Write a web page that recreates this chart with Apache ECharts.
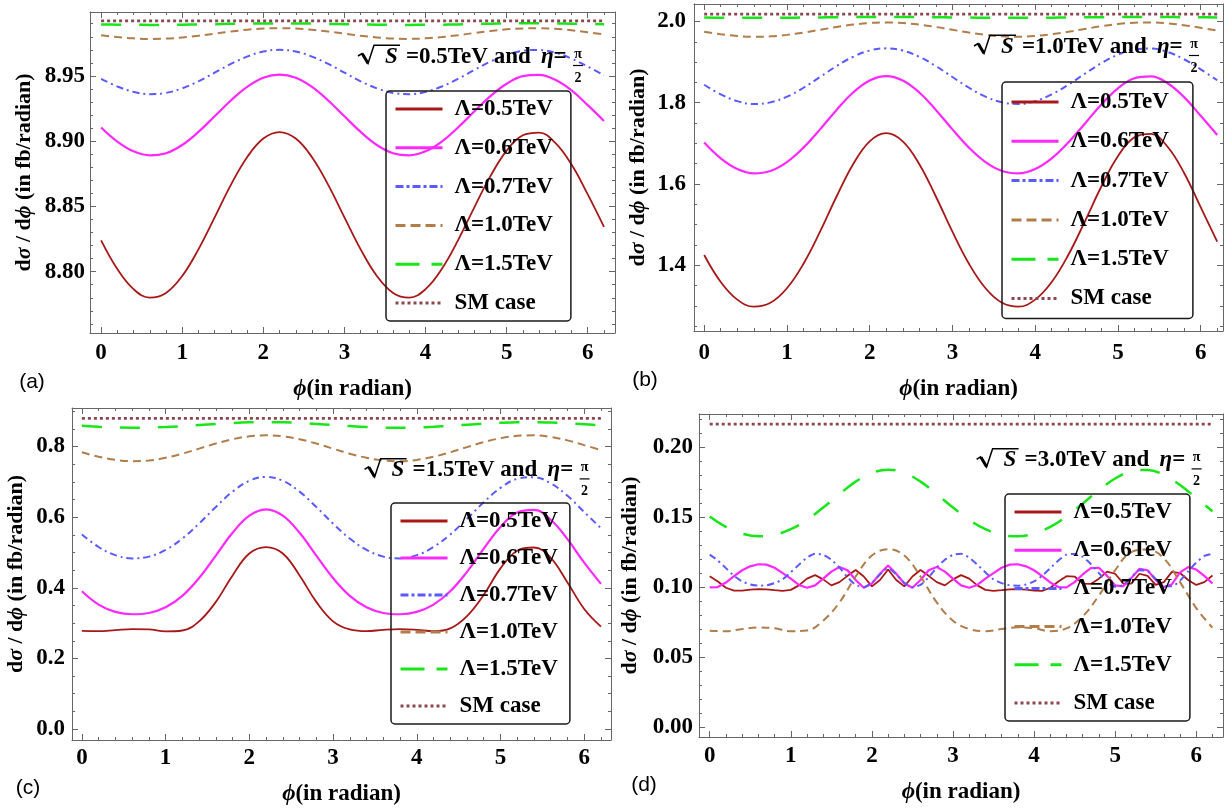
<!DOCTYPE html>
<html><head><meta charset="utf-8">
<script src="https://cdn.jsdelivr.net/npm/echarts@6.0.0/dist/echarts.min.js"></script>
<style>html,body{margin:0;padding:0;background:#fff}#c{width:1232px;height:811px}</style>
</head><body><div id="c"></div>
<script>
// ---------- data ----------
const phi02 = [0,0.2,0.4,0.6,0.8,1.0,1.2,1.4,1.6,1.8,2.0,2.2,2.4,2.6,2.8,3.0,3.2,3.4,3.6,3.8,4.0,4.2,4.4,4.6,4.8,5.0,5.2,5.4,5.6,5.8,6.0,6.2];
const phi01 = [0,0.1,0.2,0.3,0.4,0.5,0.6,0.7,0.8,0.9,1.0,1.1,1.2,1.3,1.4,1.5,1.6,1.7,1.8,1.9,2.0,2.1,2.2,2.3,2.4,2.5,2.6,2.7,2.8,2.9,3.0,3.1,3.2,3.3,3.4,3.5,3.6,3.7,3.8,3.9,4.0,4.1,4.2,4.3,4.4,4.5,4.6,4.7,4.8,4.9,5.0,5.1,5.2,5.3,5.4,5.5,5.6,5.7,5.8,5.9,6.0,6.1,6.2];
const phiEnds = [0, 6.2];

const seriesNames = ['Λ=0.5TeV','Λ=0.6TeV','Λ=0.7TeV','Λ=1.0TeV','Λ=1.5TeV','SM case'];

// panel (a)  sqrt(S)=0.5 TeV
const aL05 = [8.824,8.802,8.7866,8.7801,8.7837,8.7967,8.8171,8.8416,8.8665,8.8877,8.902,8.907,8.902,8.8877,8.8665,8.8416,8.8171,8.7967,8.7837,8.7801,8.7866,8.802,8.824,8.8491,8.8732,8.8928,8.9045,8.9066,8.8987,8.8821,8.8592,8.8343];
const aL06 = [8.9105,8.8997,8.8922,8.8891,8.8908,8.8971,8.9071,8.9191,8.9312,8.9416,8.9486,8.951,8.9486,8.9416,8.9312,8.9191,8.9071,8.8971,8.8908,8.8891,8.8922,8.8997,8.9105,8.9227,8.9345,8.944,8.9498,8.9508,8.947,8.9389,8.9276,8.9155];
const aL07 = [8.9478,8.9419,8.9378,8.936,8.937,8.9405,8.9459,8.9525,8.9592,8.9648,8.9687,8.970,8.9687,8.9648,8.9592,8.9525,8.9459,8.9405,8.937,8.936,8.9378,8.9419,8.9478,8.9545,8.961,8.9662,8.9693,8.9699,8.9678,8.9633,8.9572,8.9505];
const aL10 = [8.9812,8.9798,8.9788,8.9784,8.9786,8.9795,8.9808,8.9824,8.984,8.9854,8.9863,8.9866,8.9863,8.9854,8.984,8.9824,8.9808,8.9795,8.9786,8.9784,8.9788,8.9798,8.9812,8.9829,8.9844,8.9857,8.9864,8.9866,8.9861,8.985,8.9835,8.9819];
const aL15 = [8.9895,8.9893,8.9892,8.9891,8.9891,8.9893,8.9895,8.9897,8.9899,8.9901,8.9902,8.9903,8.9902,8.9901,8.9899,8.9897,8.9895,8.9893,8.9891,8.9891,8.9892,8.9893,8.9895,8.9898,8.99,8.9902,8.9903,8.9903,8.9902,8.99,8.9898,8.9896];
const aSM  = [8.9922, 8.9922];

// panel (b)  sqrt(S)=1.0 TeV
const bL05 = [1.425,1.3586,1.3152,1.2978,1.3074,1.3433,1.4036,1.4824,1.5691,1.6485,1.7048,1.7251,1.7048,1.6485,1.5691,1.4824,1.4036,1.3433,1.3074,1.2978,1.3152,1.3586,1.425,1.5075,1.5937,1.6681,1.7147,1.7233,1.6916,1.627,1.5427,1.458];
const bL06 = [1.7018,1.6629,1.6368,1.6262,1.632,1.6539,1.6894,1.7343,1.7823,1.8252,1.8549,1.8656,1.8549,1.8252,1.7823,1.7343,1.6894,1.6539,1.632,1.6262,1.6368,1.6629,1.7018,1.7484,1.7957,1.8355,1.8602,1.8647,1.848,1.8137,1.7678,1.7206];
const bL07 = [1.8442,1.8205,1.8039,1.7969,1.8008,1.8148,1.8368,1.8633,1.8901,1.913,1.9284,1.9338,1.9284,1.913,1.8901,1.8633,1.8368,1.8148,1.8008,1.7969,1.8039,1.8205,1.8442,1.8713,1.8974,1.9184,1.9311,1.9333,1.9249,1.907,1.8822,1.8553];
const bL10 = [1.9746,1.9685,1.9642,1.9624,1.9634,1.967,1.9727,1.9795,1.9864,1.9923,1.9962,1.9976,1.9962,1.9923,1.9864,1.9795,1.9727,1.967,1.9634,1.9624,1.9642,1.9685,1.9746,1.9815,1.9882,1.9937,1.9969,1.9975,1.9953,1.9907,1.9843,1.9774];
const bL15 = [2.0097,2.0093,2.0091,2.009,2.0091,2.0093,2.0096,2.01,2.0104,2.0107,2.0109,2.011,2.0109,2.0107,2.0104,2.01,2.0096,2.0093,2.0091,2.009,2.0091,2.0093,2.0097,2.0101,2.0105,2.0108,2.011,2.011,2.0109,2.0106,2.0102,2.0099];
const bSM  = [2.018, 2.018];

// panel (c)  sqrt(S)=1.5 TeV
const cL05 = [0.278,0.277,0.280,0.283,0.282,0.2765,0.279,0.305,0.36,0.435,0.497,0.515,0.497,0.435,0.36,0.305,0.282,0.277,0.281,0.283,0.281,0.277,0.285,0.32,0.38,0.455,0.505,0.514,0.485,0.415,0.34,0.29];
const cL06 = [0.39,0.3524,0.3319,0.325,0.3287,0.3448,0.3771,0.4275,0.4912,0.5556,0.6042,0.6222,0.6042,0.5556,0.4912,0.4275,0.3771,0.3448,0.3287,0.325,0.3319,0.3524,0.39,0.4451,0.5107,0.5722,0.613,0.6206,0.5926,0.5377,0.471,0.4111];
const cL07 = [0.551,0.5154,0.4923,0.4832,0.4882,0.5072,0.5394,0.5818,0.6288,0.6722,0.7029,0.714,0.7029,0.6722,0.6288,0.5818,0.5394,0.5072,0.4882,0.4832,0.4923,0.5154,0.551,0.5954,0.6422,0.6828,0.7084,0.713,0.6957,0.6604,0.6145,0.5687];
const cL10 = [0.7837,0.771,0.7621,0.7584,0.7604,0.7679,0.7797,0.7939,0.8083,0.8206,0.8288,0.8317,0.8288,0.8206,0.8083,0.7939,0.7797,0.7679,0.7604,0.7584,0.7621,0.771,0.7837,0.7982,0.8122,0.8235,0.8302,0.8315,0.8269,0.8173,0.804,0.7897];
const cL15 = [0.8585,0.8558,0.8538,0.853,0.8535,0.8551,0.8577,0.8608,0.8639,0.8666,0.8684,0.869,0.8684,0.8666,0.8639,0.8608,0.8577,0.8551,0.8535,0.853,0.8538,0.8558,0.8585,0.8617,0.8647,0.8672,0.8687,0.8689,0.868,0.8659,0.863,0.8598];
const cSM  = [0.8796, 0.8796];

// panel (d)  sqrt(S)=3.0 TeV
const dL05 = [0.1078,0.104,0.0995,0.0975,0.0975,0.0982,0.0985,0.0984,0.0978,0.0973,0.098,0.1012,0.106,0.1085,0.1055,0.1012,0.1035,0.108,0.1122,0.1075,0.1005,0.105,0.1125,0.105,0.1005,0.1075,0.1122,0.108,0.1035,0.1012,0.1055,0.1085,0.106,0.1012,0.098,0.0973,0.0978,0.0984,0.0985,0.0982,0.0975,0.0972,0.0995,0.104,0.1078,0.1075,0.1025,0.1022,0.106,0.111,0.1095,0.1025,0.1025,0.1095,0.108,0.1015,0.1035,0.1108,0.110,0.105,0.1015,0.1035,0.1082];
const dL06 = [0.0997,0.1,0.1032,0.1078,0.112,0.1148,0.1163,0.116,0.1138,0.110,0.106,0.1015,0.0995,0.1012,0.106,0.111,0.1143,0.112,0.105,0.0995,0.1025,0.1095,0.1154,0.1095,0.1025,0.0995,0.105,0.112,0.1143,0.111,0.106,0.1012,0.0995,0.1015,0.106,0.110,0.1138,0.116,0.1163,0.1148,0.112,0.1078,0.1033,0.1,0.0998,0.1035,0.109,0.1135,0.1138,0.108,0.1012,0.1005,0.1065,0.113,0.112,0.105,0.0998,0.102,0.1105,0.1142,0.1125,0.108,0.1025];
const dL07 = [0.1232,0.119,0.1135,0.108,0.104,0.1018,0.101,0.1012,0.1028,0.1055,0.1105,0.116,0.121,0.1238,0.123,0.1195,0.114,0.107,0.1015,0.1,0.103,0.109,0.1136,0.109,0.103,0.1,0.1015,0.107,0.114,0.1195,0.123,0.1238,0.121,0.116,0.1105,0.1055,0.1028,0.1012,0.101,0.1018,0.104,0.108,0.1135,0.119,0.1232,0.1236,0.1215,0.1165,0.11,0.1035,0.1002,0.1015,0.107,0.112,0.1115,0.1058,0.1005,0.1005,0.1045,0.1112,0.1175,0.1222,0.1238];
const dL10 = [0.0688,0.0685,0.070,0.0712,0.0705,0.0685,0.069,0.076,0.089,0.1075,0.1225,0.127,0.1225,0.1075,0.089,0.076,0.070,0.0685,0.070,0.0712,0.0705,0.0685,0.0705,0.079,0.094,0.112,0.125,0.1268,0.1205,0.1035,0.085,0.071];
const dL15 = [0.1504,0.143,0.1382,0.1362,0.1373,0.1413,0.148,0.1568,0.1664,0.1753,0.1815,0.1838,0.1815,0.1753,0.1664,0.1568,0.148,0.1413,0.1373,0.1362,0.1382,0.143,0.1504,0.1596,0.1692,0.1775,0.1827,0.1836,0.1801,0.1729,0.1636,0.1541];
const dSM  = [0.2164, 0.2164];

// tick labels
const xTicks  = [0,1,2,3,4,5,6];
const yTicksA = [8.80,8.85,8.90,8.95];
const yTicksB = [1.4,1.6,1.8,2.0];
const yTicksC = [0.0,0.2,0.4,0.6,0.8];
const yTicksD = [0.00,0.05,0.10,0.15,0.20];
const energies = ['0.5','1.0','1.5','3.0'];
const letters = ['(a)','(b)','(c)','(d)'];

// ---------- styles / layout ----------
const FONT = '"Liberation Serif","Times New Roman",serif';
const FRAME = '#666';
const lineStyles = [
  {color:'#a81818', width:1.8, type:'solid'},
  {color:'#ff28ff', width:2.2, type:'solid'},
  {color:'#5a5aff', width:2.0, type:[7,4,2,4]},
  {color:'#b07d4b', width:2.0, type:[8,5]},
  {color:'#19e619', width:2.5, type:[20,18]},
  {color:'#8c4650', width:2.8, type:[3,3]}
];
const legendDash = ['solid','solid',[8,3,3,3],[10,5],[24,12],[3,3]];

const panels = [
  {grid:[90,12,525,321], x:[-0.137,6.336], y:[8.753,8.999], yTicks:yTicksA, yMinor:0.01, dec:2,
   xLabelMargin:9, yLabelMargin:5, xNameGap:45, yNameGap:55,
   lines:[[phi02,aL05],[phi02,aL06],[phi02,aL07],[phi02,aL10],[phi02,aL15],[phiEnds,aSM]], smooth:[0.4,0.4,0.4,0.4,0.4,0],
   legend:{left:386, top:91, gap:14.8, pad:[6,18,6,8]}, title:[0,0], letter:[32,382]},
  {grid:[694,4,529,327], x:[-0.123,6.27], y:[1.238,2.043], yTicks:yTicksB, yMinor:0.05, dec:1,
   xLabelMargin:11, yLabelMargin:8, xNameGap:47, yNameGap:45,
   lines:[[phi02,bL05],[phi02,bL06],[phi02,bL07],[phi02,bL10],[phi02,bL15],[phiEnds,bSM]], smooth:[0.4,0.4,0.4,0.4,0.4,0],
   legend:{left:1002, top:82, gap:15.3, pad:[8,24,8,8]}, title:[616,-10], letter:[645,380]},
  {grid:[72,408,539,332], x:[-0.118,6.32], y:[-0.031,0.909], yTicks:yTicksC, yMinor:0.05, dec:1,
   xLabelMargin:7, yLabelMargin:7, xNameGap:43, yNameGap:45,
   lines:[[phi02,cL05],[phi02,cL06],[phi02,cL07],[phi02,cL10],[phi02,cL15],[phiEnds,cSM]], smooth:[0.4,0.4,0.4,0.4,0.4,0],
   legend:{left:391, top:503, gap:13, pad:[6,12,6,8]}, title:[6.6,413.4], letter:[28,788]},
  {grid:[699,414,524,323], x:[-0.132,6.33], y:[-0.0071,0.2236], yTicks:yTicksD, yMinor:0.01, dec:2,
   xLabelMargin:8, yLabelMargin:6, xNameGap:44, yNameGap:58,
   lines:[[phi01,dL05],[phi01,dL06],[phi01,dL07],[phi02,dL10],[phi02,dL15],[phiEnds,dSM]], smooth:[0,0,0.2,0.4,0.4,0],
   legend:{left:1005, top:494, gap:14.2, pad:[6,18,6,8]}, title:[618.6,403.4], letter:[644,785]}
];

function minorVals(min, max, step, majors) {
  const out = [];
  const k0 = Math.ceil(min / step - 1e-9), k1 = Math.floor(max / step + 1e-9);
  for (let k = k0; k <= k1; k++) {
    const v = +(k * step).toFixed(6);
    if (!majors.some(m => Math.abs(m - v) < step / 10)) out.push(v);
  }
  return out;
}
function zip(xs, ys) { return ys.map((y, i) => [xs[i], y]); }

const labelFont = {color:'#000', fontFamily:FONT, fontWeight:'bold', fontSize:23};
const option = {animation:false, backgroundColor:'#fff', grid:[], xAxis:[], yAxis:[], series:[], legend:[], graphic:[]};

panels.forEach((p, gi) => {
  option.grid.push({left:p.grid[0], top:p.grid[1], width:p.grid[2], height:p.grid[3]});
  const xMinor = minorVals(p.x[0], p.x[1], 0.2, xTicks);
  const yMinor = minorVals(p.y[0], p.y[1], p.yMinor, p.yTicks);
  const xb = option.xAxis.length, yb = option.yAxis.length;
  const xBase = {type:'value', gridIndex:gi, min:p.x[0], max:p.x[1], splitLine:{show:false}};
  const yBase = {type:'value', gridIndex:gi, min:p.y[0], max:p.y[1], splitLine:{show:false}};
  const lineOn = {show:true, onZero:false, lineStyle:{color:FRAME, width:1}};
  const lineOff = {show:false, onZero:false};
  const tick = (vals, len) => ({show:true, inside:true, length:len, customValues:vals, lineStyle:{color:FRAME, width:1}});
  const noLab = {show:false};
  option.xAxis.push(Object.assign({}, xBase, {position:'bottom', axisLine:lineOn, axisTick:tick(xTicks,6),
    axisLabel:Object.assign({show:true, customValues:xTicks, margin:p.xLabelMargin, formatter:v => String(Math.round(v))}, labelFont),
    name:'{i|ϕ}(in radian)', nameLocation:'middle', nameGap:p.xNameGap,
    nameTextStyle:{color:'#000', fontFamily:FONT, fontWeight:'bold', fontSize:23,
      rich:{i:{fontFamily:FONT, fontWeight:'bold', fontStyle:'italic', fontSize:23, color:'#000'}}}}));
  option.xAxis.push(Object.assign({}, xBase, {position:'bottom', axisLine:lineOff, axisTick:tick(xMinor,3), axisLabel:noLab}));
  option.xAxis.push(Object.assign({}, xBase, {position:'top', axisLine:lineOn, axisTick:tick(xTicks,6), axisLabel:noLab}));
  option.xAxis.push(Object.assign({}, xBase, {position:'top', axisLine:lineOff, axisTick:tick(xMinor,3), axisLabel:noLab}));

  option.yAxis.push(Object.assign({}, yBase, {position:'left', axisLine:lineOn, axisTick:tick(p.yTicks,6),
    axisLabel:Object.assign({show:true, customValues:p.yTicks, margin:p.yLabelMargin, formatter:v => Number(v).toFixed(p.dec)}, labelFont),
    name:'d{i|σ} / d{i|ϕ} (in fb/radian)', nameLocation:'middle', nameGap:p.yNameGap,
    nameTextStyle:{color:'#000', fontFamily:FONT, fontWeight:'bold', fontSize:22,
      rich:{i:{fontFamily:FONT, fontWeight:'bold', fontStyle:'italic', fontSize:22, color:'#000'}}}}));
  option.yAxis.push(Object.assign({}, yBase, {position:'left', axisLine:lineOff, axisTick:tick(yMinor,3), axisLabel:noLab}));
  option.yAxis.push(Object.assign({}, yBase, {position:'right', axisLine:lineOn, axisTick:tick(p.yTicks,6), axisLabel:noLab}));
  option.yAxis.push(Object.assign({}, yBase, {position:'right', axisLine:lineOff, axisTick:tick(yMinor,3), axisLabel:noLab}));

  p.lines.forEach((ln, si) => {
    option.series.push({
      type:'line', name:seriesNames[si], xAxisIndex:xb, yAxisIndex:yb,
      data:zip(ln[0], ln[1]), symbol:'none', showSymbol:false, smooth:p.smooth[si],
      lineStyle:Object.assign({}, lineStyles[si]), z:2+si*0.01, silent:true
    });
  });

  option.legend.push({
    left:p.legend.left, top:p.legend.top, orient:'vertical', selectedMode:false,
    itemWidth:47, itemHeight:14, itemGap:p.legend.gap, padding:p.legend.pad,
    borderColor:'#1a1a1a', borderWidth:1.5, borderRadius:4, backgroundColor:'transparent',
    itemStyle:{opacity:0}, lineStyle:{width:3},
    textStyle:{fontFamily:FONT, fontWeight:'bold', fontSize:23, color:'#000', lineHeight:24, padding:[0,0,0,7]},
    data:seriesNames.map((n, i) => ({name:n, lineStyle:{type:legendDash[i], width:3}}))
  });

  // in-panel title: sqrt(S) = ... TeV and eta = pi/2
  const dx = p.title[0], dy = p.title[1];
  const T = (x, y, text, extra) => ({type:'text', x:x+dx, y:y+dy, z:10,
    style:Object.assign({text:text, fontFamily:FONT, fontWeight:'bold', fontSize:23, fill:'#000', verticalAlign:'middle'}, extra||{})});
  option.graphic.push(
    {type:'polyline', z:10, shape:{points:[[358+dx,56+dy],[362+dx,53.5+dy],[368+dx,63.5+dy],[374+dx,45.3+dy],[400+dx,45.3+dy]]},
     style:{stroke:'#000', lineWidth:1.5, fill:null}},
    {type:'line', z:10, shape:{x1:362.3+dx, y1:53.8+dy, x2:368+dx, y2:63.3+dy}, style:{stroke:'#000', lineWidth:3}},
    T(385, 57, 'S', {fontStyle:'italic'}),
    T(406, 57, '=' + energies[gi] + 'TeV and'),
    T(541, 57, '{i|η}=', {rich:{i:{fontFamily:FONT, fontWeight:'bold', fontStyle:'italic', fontSize:23, fill:'#000'}}}),
    T(578, 54, 'π', {fontSize:14, align:'center'}),
    {type:'line', z:10, shape:{x1:573+dx, y1:65.5+dy, x2:583+dx, y2:65.5+dy}, style:{stroke:'#000', lineWidth:1.2}},
    T(578, 78, '2', {fontSize:14, align:'center'}),
    {type:'text', x:p.letter[0], y:p.letter[1], z:10,
     style:{text:letters[gi], fontFamily:'"Liberation Sans",Arial,sans-serif', fontSize:21, fill:'#000', align:'center', verticalAlign:'middle'}}
  );
});

const chart = echarts.init(document.getElementById('c'), null, {renderer:'canvas'});
chart.setOption(option);
</script>
</body></html>
